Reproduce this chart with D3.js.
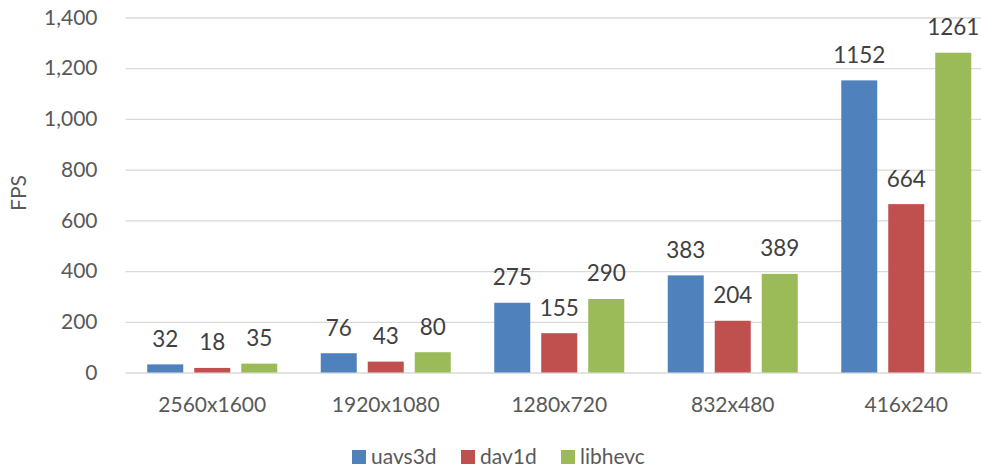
<!DOCTYPE html>
<html><head><meta charset="utf-8">
<script src="https://cdn.jsdelivr.net/npm/d3@7/dist/d3.min.js"></script>
<style>body{margin:0;background:#fff;}svg{display:block;}</style>
</head><body>
<svg id="chart" width="981" height="468"></svg>
<script>
const categories = ["2560x1600","1920x1080","1280x720","832x480","416x240"];
const seriesNames = ["uavs3d","dav1d","libhevc"];
const uavs3d = [32,76,275,383,1152];
const dav1d = [18,43,155,204,664];
const libhevc = [35,80,290,389,1261];
const yTicks = [0,200,400,600,800,1000,1200,1400];
const colors = ["#4F81BD","#C0504D","#9BBB59"];
const seriesValues = [uavs3d, dav1d, libhevc];

(function(){
const svg = d3.select("#chart");
const font = "Lato, 'Open Sans', sans-serif";
const pLeft = 125.5, pRight = 993, pTop = 17.5, pBottom = 372.5;

const x = d3.scaleBand().domain(categories).range([pLeft, pRight]).paddingInner(0).paddingOuter(0);
const y = d3.scaleLinear().domain([0,1400]).range([pBottom, pTop]);
const barW = 36, step = 47;

const yAxis = d3.axisLeft(y).tickValues(yTicks).tickFormat(d3.format(",")).tickSize(-(pRight-pLeft)).tickPadding(28);
const gy = svg.append("g").attr("transform", `translate(${pLeft},0)`).call(yAxis);
gy.select(".domain").remove();
gy.selectAll(".tick line").attr("stroke","#D9D9D9").attr("stroke-width",1.3);
gy.selectAll(".tick text").attr("fill","#595959").style("font-family",font).style("font-size","21px");

seriesValues.forEach((vals, si) => {
  const g = svg.append("g");
  g.selectAll("rect").data(vals).enter().append("rect")
    .attr("x", (d,i) => x(categories[i]) + x.bandwidth()/2 + (si-1)*step - barW/2)
    .attr("y", d => y(d))
    .attr("width", barW)
    .attr("height", d => y(0) - y(d))
    .attr("fill", colors[si]);
  g.selectAll("text").data(vals).enter().append("text")
    .attr("x", (d,i) => x(categories[i]) + x.bandwidth()/2 + (si-1)*step)
    .attr("y", d => y(d) - 17.5)
    .attr("text-anchor","middle")
    .attr("fill","#404040")
    .style("font-family",font).style("font-size","22.5px")
    .text(d => d);
});

const xAxis = d3.axisBottom(x).tickSize(0).tickPadding(0);
const gx = svg.append("g").attr("transform", `translate(0,${pBottom})`).call(xAxis);
gx.select(".domain").remove();
gx.selectAll(".tick text").attr("fill","#595959").attr("dy",null).attr("y",39.5)
  .style("font-family",font).style("font-size","21px");

svg.append("text").attr("transform","translate(26,193) rotate(-90)")
  .attr("text-anchor","middle").attr("fill","#595959")
  .style("font-family",font).style("font-size","21px").text("FPS");

const legendX = [352, 461, 561];
const lg = svg.append("g");
seriesNames.forEach((n, i) => {
  lg.append("rect").attr("x", legendX[i]).attr("y", 450).attr("width",14).attr("height",14).attr("fill",colors[i]);
  lg.append("text").attr("x", legendX[i]+19).attr("y", 464).attr("fill","#595959")
    .style("font-family",font).style("font-size","21px").text(n);
});
})();
</script>
</body></html>
